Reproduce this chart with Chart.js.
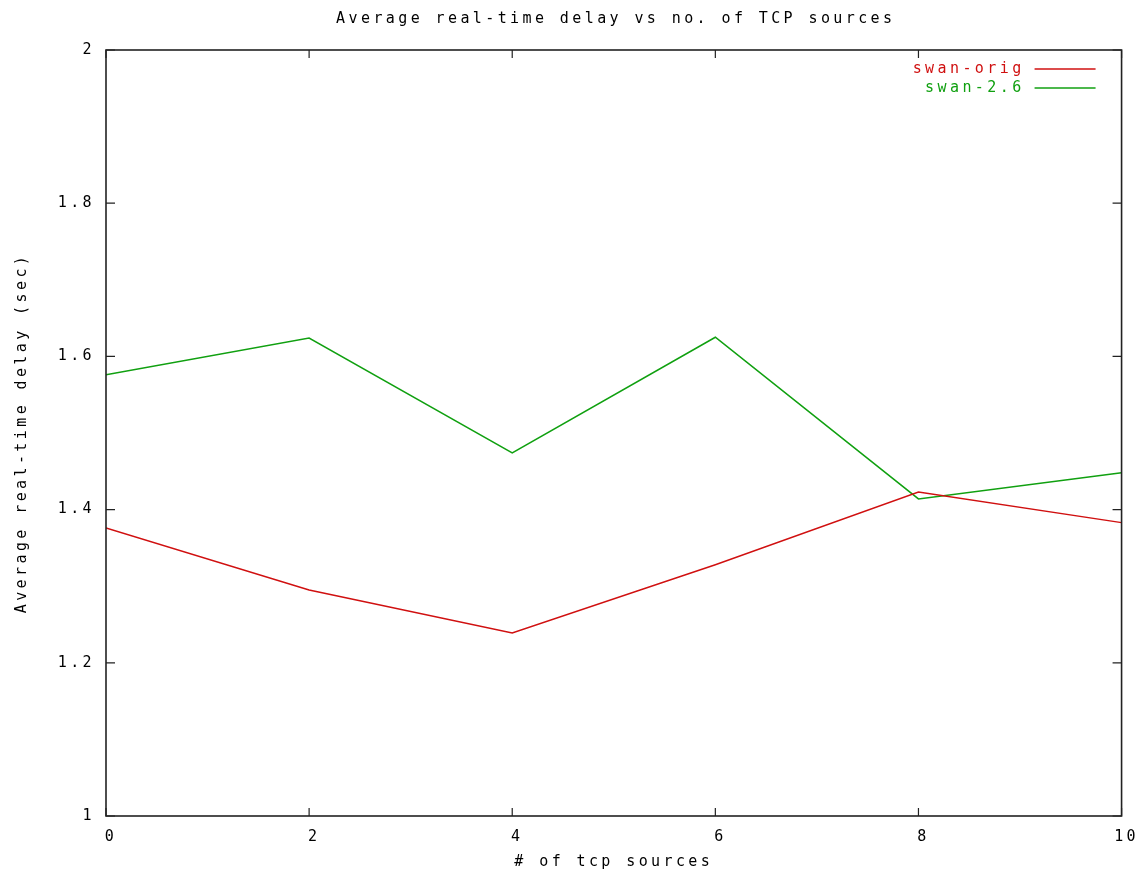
<!DOCTYPE html>
<html>
<head>
<meta charset="utf-8">
<script src="https://cdn.jsdelivr.net/npm/chart.js@4/dist/chart.umd.min.js"></script>
<style>
    html, body { margin: 0; padding: 0; background: #fff; }
    #wrap { width: 1146px; height: 878px; }
</style>
</head>
<body>
<div id="wrap"><canvas id="delay_chart"></canvas></div>
<script>
const tcpSources = [0, 2, 4, 6, 8, 10]
const swanOrig = [1.376, 1.295, 1.239, 1.328, 1.423, 1.383]
const swan26 = [1.576, 1.624, 1.474, 1.625, 1.414, 1.448]
const xTicks = [0, 2, 4, 6, 8, 10]
const yTicks = [1, 1.2, 1.4, 1.6, 1.8, 2]
const chartTitle = 'Average real-time delay vs no. of TCP sources'

const FONT = '"DejaVu Sans Mono", "Liberation Mono", monospace'
const SPACING = '3.4px'
const RED = '#d01010'
const GREEN = '#10a010'

// gnuplot look: box border, inward ticks on all four sides, legend inside top-right
const gnuplotFrame = {
    id: 'gnuplotFrame',
    beforeLayout(chart) { chart.ctx.letterSpacing = SPACING },
    beforeDraw(chart) { chart.ctx.letterSpacing = SPACING },
    afterDatasetsDraw(chart) {
        const { ctx, chartArea: a, scales } = chart
        ctx.save()
        ctx.strokeStyle = '#222'
        ctx.lineWidth = 1.6
        ctx.strokeRect(a.left, a.top, a.right - a.left, a.bottom - a.top)

        ctx.lineWidth = 1.2
        ctx.beginPath()
        scales.x.ticks.forEach(t => {
            const px = scales.x.getPixelForValue(t.value)
            ctx.moveTo(px, a.bottom); ctx.lineTo(px, a.bottom - 8)
            ctx.moveTo(px, a.top); ctx.lineTo(px, a.top + 8)
        })
        scales.y.ticks.forEach(t => {
            const py = scales.y.getPixelForValue(t.value)
            ctx.moveTo(a.left, py); ctx.lineTo(a.left + 9, py)
            ctx.moveTo(a.right, py); ctx.lineTo(a.right - 9, py)
        })
        ctx.stroke()

        ctx.font = '15px ' + FONT
        ctx.letterSpacing = SPACING
        ctx.textBaseline = 'middle'

        // title, centred over the plot box
        ctx.fillStyle = '#000'
        ctx.textAlign = 'center'
        ctx.fillText(chartTitle, (a.left + a.right) / 2 + 2, 19)

        // legend
        ctx.textAlign = 'right'
        chart.data.datasets.forEach((ds, i) => {
            const y = a.top + 19 + i * 19
            ctx.fillStyle = ds.borderColor
            ctx.fillText(ds.label, a.right - 97, y)
            ctx.strokeStyle = ds.borderColor
            ctx.lineWidth = 1.5
            ctx.beginPath()
            ctx.moveTo(a.right - 87, y)
            ctx.lineTo(a.right - 26, y)
            ctx.stroke()
        })
        ctx.restore()
    }
}

const ctx = document.querySelector('#delay_chart').getContext('2d')

new Chart(ctx, {
    type: 'line',
    data: {
        datasets: [
            {
                label: 'swan-orig',
                data: tcpSources.map((x, i) => ({ x, y: swanOrig[i] })),
                borderColor: RED,
                borderWidth: 1.5,
                pointRadius: 0,
                tension: 0
            },
            {
                label: 'swan-2.6',
                data: tcpSources.map((x, i) => ({ x, y: swan26[i] })),
                borderColor: GREEN,
                borderWidth: 1.5,
                pointRadius: 0,
                tension: 0
            }
        ]
    },
    options: {
        responsive: true,
        maintainAspectRatio: false,
        animation: false,
        layout: { padding: { left: 0, right: 23, top: 50, bottom: 0 } },
        plugins: {
            legend: { display: false },
            tooltip: { enabled: false },
            title: { display: false }
        },
        scales: {
            x: {
                type: 'linear',
                min: 0,
                max: 10,
                afterBuildTicks: (scale) => { scale.ticks = xTicks.map(v => ({ value: v })) },
                afterFit: (scale) => { scale.height = 62 },
                grid: { display: false, drawTicks: false },
                border: { display: false },
                ticks: {
                    color: '#000',
                    padding: 12,
                    labelOffset: 5,
                    maxRotation: 0,
                    font: { family: FONT, size: 15 }
                },
                title: {
                    display: true,
                    text: '# of tcp sources',
                    color: '#000',
                    font: { family: FONT, size: 15 },
                    padding: { top: 0, bottom: 7 }
                }
            },
            y: {
                type: 'linear',
                min: 1,
                max: 2,
                afterBuildTicks: (scale) => { scale.ticks = yTicks.map(v => ({ value: v })) },
                afterFit: (scale) => { scale.width = 106 },
                grid: { display: false, drawTicks: false },
                border: { display: false },
                ticks: {
                    color: '#000',
                    padding: 11,
                    font: { family: FONT, size: 15 },
                    callback: (value) => String(Math.round(value * 10) / 10)
                },
                title: {
                    display: true,
                    text: 'Average real-time delay (sec)',
                    color: '#000',
                    font: { family: FONT, size: 15 },
                    padding: { top: 13, bottom: 0 }
                }
            }
        }
    },
    plugins: [gnuplotFrame]
})
</script>
</body>
</html>
